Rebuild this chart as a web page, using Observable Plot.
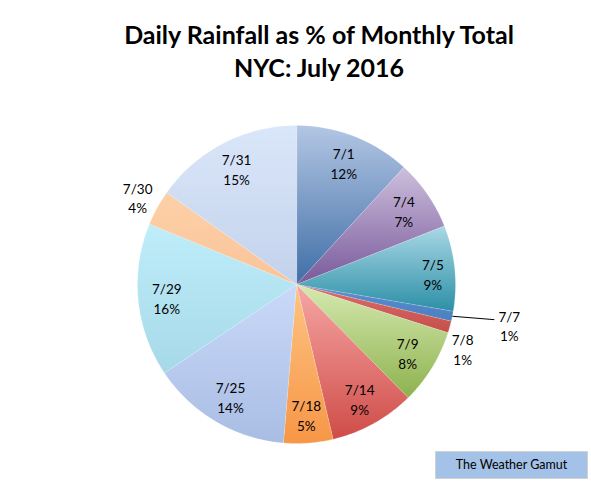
<!DOCTYPE html>
<html><head><meta charset="utf-8">
<script src="https://cdn.jsdelivr.net/npm/d3@7"></script>
<script src="https://cdn.jsdelivr.net/npm/@observablehq/plot@0.6"></script>
<style>
body{margin:0;background:#fff;}
#wrap{position:relative;width:591px;height:486px;font-family:Lato,"Open Sans",sans-serif;overflow:hidden;}
#title{position:absolute;left:0;width:638px;top:18px;text-align:center;font-weight:bold;font-size:25px;line-height:33px;color:#000;margin:0;}
#chart{position:absolute;left:0;top:90px;}
#credit{position:absolute;left:435px;top:451px;width:151px;height:26px;background:#a4c2e8;border:1px solid #d2d2d2;font-size:12.5px;line-height:26px;text-align:center;color:#000;}
</style>
</head><body>
<div id="wrap">
  <div id="title">Daily Rainfall as % of Monthly Total<br>NYC: July 2016</div>
  <div id="chart"></div>
  <div id="credit">The Weather Gamut</div>
</div>
<script>
// ---- data ----
const days = ["7/1","7/4","7/5","7/7","7/8","7/9","7/14","7/18","7/25","7/29","7/30","7/31"];
const shares = [11.8, 7.2, 8.7, 1.0, 1.2, 7.7, 8.7, 5.0, 14.3, 15.6, 3.6, 15.2];
const topColors    = ["#b3c6e4","#cdbfdd","#aad8e6","#5b8fd0","#dd6c68","#d6e9b0","#f6a7a5","#fdc484","#c9d9f9","#bfedfa","#fdd0a7","#dae6f9"];
const bottomColors = ["#3f6ea6","#78599a","#2c8fa6","#4a7fc0","#c4504c","#8db24e","#cf4c48","#f79646","#a9bde3","#a6d9e8","#fac49a","#c3d2ec"];

// ---- layout ----
const W = 591, H = 396, CX = 296, CY = 194, R = 159;
const placement = { "7/5": {k: 0.86, da: 1.5}, "7/8": {k: 1.12, da: 5.6}, "7/30": {k: 1.14, da: 0} };

const arcs = d3.pie().sort(null).value(d => d)(shares);
const pt = (rho, a) => ({x: rho * Math.sin(a), y: rho * Math.cos(a)});

const polys = arcs.map((a, i) => {
  const pts = [{x: 0, y: 0}];
  const n = Math.max(2, Math.ceil((a.endAngle - a.startAngle) / (Math.PI / 360)));
  for (let j = 0; j <= n; j++) pts.push(pt(R, a.startAngle + (a.endAngle - a.startAngle) * j / n));
  return pts;
});

const labels = [];
let leader = [];
arcs.forEach((a, i) => {
  const mid = (a.startAngle + a.endAngle) / 2;
  const text = days[i] + "\n" + Math.round(shares[i]) + "%";
  if (days[i] === "7/7") {
    const p0 = pt(R, mid);
    const p1 = {x: p0.x + 42, y: p0.y - 3.4};
    leader.push({x1: p0.x, y1: p0.y, x2: p1.x, y2: p1.y});
    labels.push({x: p1.x + 15, y: p1.y - 5.5, text});
  } else {
    const pl = placement[days[i]] || {k: 0.82, da: 0};
    const p = pt(R * pl.k, mid + pl.da * Math.PI / 180);
    labels.push({x: p.x, y: p.y, text});
  }
});

const marks = polys.map((p, i) => Plot.line(p, {
  x: "x", y: "y", curve: "linear-closed",
  fill: `url(#grad${i})`, stroke: "#ffffff", strokeOpacity: 0.3, strokeWidth: 0.6
}));
marks.push(Plot.link(leader, {x1: "x1", y1: "y1", x2: "x2", y2: "y2", stroke: "#000", strokeWidth: 1}));
marks.push(Plot.text(labels, {x: "x", y: "y", text: "text", fontSize: 13.5, lineHeight: 1.45, fill: "#000", fontFamily: "Lato"}));

const svg = Plot.plot({
  width: W, height: H,
  marginTop: 0, marginRight: 0, marginBottom: 0, marginLeft: 0,
  x: {domain: [-CX, W - CX], axis: null},
  y: {domain: [-(H - CY), CY], axis: null},
  style: {background: "transparent", fontFamily: "Lato"},
  marks
});

const defs = document.createElementNS("http://www.w3.org/2000/svg", "defs");
defs.innerHTML = days.map((d, i) =>
  `<linearGradient id="grad${i}" x1="0" y1="0" x2="0" y2="1"><stop offset="0" stop-color="${topColors[i]}"/><stop offset="1" stop-color="${bottomColors[i]}"/></linearGradient>`
).join("");
svg.insertBefore(defs, svg.firstChild);
document.getElementById("chart").appendChild(svg);
</script>
</body></html>
